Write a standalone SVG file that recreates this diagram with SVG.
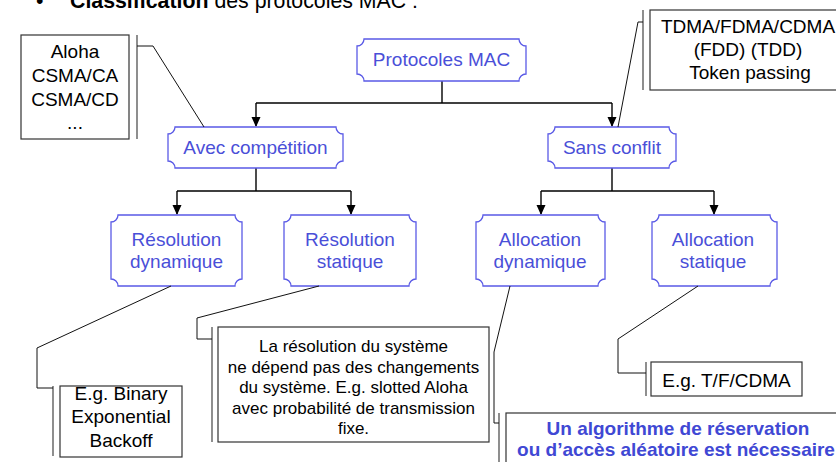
<svg xmlns="http://www.w3.org/2000/svg" width="836" height="462" viewBox="0 0 836 462">
<defs>
<style>
.node path{fill:#fff;stroke:#5a5ae6;stroke-width:1.3}
.node text{font-family:"Liberation Sans",Arial,sans-serif;font-size:19px;fill:#4a4fd8;text-anchor:middle}
.box{fill:#fff;stroke:#333;stroke-width:1.2}
.bar{stroke:#444;stroke-width:1.2;fill:none}
.lead{stroke:#111;stroke-width:1;fill:none}
.ct{font-family:"Liberation Sans",Arial,sans-serif;font-size:19px;fill:#000;text-anchor:middle}
.cs{font-family:"Liberation Sans",Arial,sans-serif;font-size:17px;fill:#000;text-anchor:middle}
.cb{font-family:"Liberation Sans",Arial,sans-serif;font-size:19px;font-weight:bold;fill:#4048d4;text-anchor:middle}
.conn{stroke:#000;stroke-width:1.4;fill:none}
</style>
<marker id="arr" markerUnits="userSpaceOnUse" markerWidth="10" markerHeight="11" refX="5" refY="10" orient="auto-start-reverse" viewBox="0 0 10 11">
<path d="M0,0 L10,0 L5,10 Z" fill="#000" transform="rotate(0)"/>
</marker>
</defs>
<rect width="836" height="462" fill="#fff"/>

<text x="36" y="8" font-family="Liberation Sans,Arial,sans-serif" font-size="21.3" fill="#000">•</text>
<text x="70" y="8" font-family="Liberation Sans,Arial,sans-serif" font-size="21.3" fill="#000"><tspan font-weight="bold">Classification</tspan> des protocoles MAC :</text>

<g id="connectors">
<path class="conn" d="M442,81 V103"/>
<path class="conn" d="M256,103 H612"/>
<path class="conn" d="M256,103 V126"/>
<path class="conn" d="M612,103 V126"/>
<path class="conn" d="M256,168 V191 M177,191 H351 M612,168 V191 M541,191 H714"/>
<path class="conn" d="M177,191 V214"/>
<path class="conn" d="M351,191 V214"/>
<path class="conn" d="M541,191 V214"/>
<path class="conn" d="M714,191 V214"/>
<g fill="#000">
<polygon points="251.5,117 260.5,117 256,127"/>
<polygon points="607.5,117 616.5,117 612,127"/>
<polygon points="172.5,205 181.5,205 177,215"/>
<polygon points="346.5,205 355.5,205 351,215"/>
<polygon points="536.5,205 545.5,205 541,215"/>
<polygon points="709.5,205 718.5,205 714,215"/>
</g>
</g>

<g id="n-protocoles" class="node">
<path d="M364,39 H519 A7,7 0 0 0 526,46 V74 A7,7 0 0 0 519,81 H364 A7,7 0 0 0 357,74 V46 A7,7 0 0 0 364,39 Z"/>
<text x="441.5" y="66">Protocoles MAC</text>
</g>
<g id="n-avec" class="node">
<path d="M175,127 H336 A7,7 0 0 0 343,134 V161 A7,7 0 0 0 336,168 H175 A7,7 0 0 0 168,161 V134 A7,7 0 0 0 175,127 Z"/>
<text x="255.5" y="154">Avec compétition</text>
</g>
<g id="n-sans" class="node">
<path d="M555,127 H669 A7,7 0 0 0 676,134 V161 A7,7 0 0 0 669,168 H555 A7,7 0 0 0 548,161 V134 A7,7 0 0 0 555,127 Z"/>
<text x="612" y="154">Sans conflit</text>
</g>
<g id="n-resdyn" class="node">
<path d="M118,215 H235 A7,7 0 0 0 242,222 V279 A7,7 0 0 0 235,286 H118 A7,7 0 0 0 111,279 V222 A7,7 0 0 0 118,215 Z"/>
<text x="176.5" y="246">Résolution</text>
<text x="176.5" y="268">dynamique</text>
</g>
<g id="n-resstat" class="node">
<path d="M291,215 H409 A7,7 0 0 0 416,222 V279 A7,7 0 0 0 409,286 H291 A7,7 0 0 0 284,279 V222 A7,7 0 0 0 291,215 Z"/>
<text x="350" y="246">Résolution</text>
<text x="350" y="268">statique</text>
</g>
<g id="n-allocdyn" class="node">
<path d="M483,215 H598 A7,7 0 0 0 605,222 V279 A7,7 0 0 0 598,286 H483 A7,7 0 0 0 476,279 V222 A7,7 0 0 0 483,215 Z"/>
<text x="540" y="246">Allocation</text>
<text x="540" y="268">dynamique</text>
</g>
<g id="n-allocstat" class="node">
<path d="M659,215 H770 A7,7 0 0 0 777,222 V279 A7,7 0 0 0 770,286 H659 A7,7 0 0 0 652,279 V222 A7,7 0 0 0 659,215 Z"/>
<text x="713" y="246">Allocation</text>
<text x="713" y="268">statique</text>
</g>

<g id="c-aloha">
<rect class="box" x="21" y="35" width="108" height="104"/>
<path class="bar" d="M137,35 V139"/>
<path class="lead" d="M137,46 H153 L204,127"/>
<text class="ct" x="75" y="58">Aloha</text>
<text class="ct" x="75" y="82">CSMA/CA</text>
<text class="ct" x="75" y="106">CSMA/CD</text>
<text class="ct" x="75" y="129">...</text>
</g>

<g id="c-tdma">
<rect class="box" x="650" y="10" width="198" height="80"/>
<path class="bar" d="M643,10 V90"/>
<path class="lead" d="M643,22 H638 L618,127"/>
<text class="ct" x="748" y="33">TDMA/FDMA/CDMA</text>
<text class="ct" x="748" y="56">(FDD) (TDD)</text>
<text class="ct" x="750" y="79">Token passing</text>
</g>

<g id="c-binary">
<rect class="box" x="60" y="386" width="122" height="71"/>
<path class="bar" d="M53,386 V456"/>
<path class="lead" d="M53,388 H37 V348 L171,286"/>
<text class="ct" x="121" y="400">E.g. Binary</text>
<text class="ct" x="121" y="423">Exponential</text>
<text class="ct" x="121" y="447">Backoff</text>
</g>

<g id="c-resolution">
<rect class="box" x="218" y="327" width="271" height="115"/>
<path class="bar" d="M212,327 V442"/>
<path class="lead" d="M212,339 H197 V318 L319,286"/>
<text class="cs" x="353.5" y="352">La résolution du système</text>
<text class="cs" x="353.5" y="372.5">ne dépend pas des changements</text>
<text class="cs" x="353.5" y="393">du système. E.g. slotted Aloha</text>
<text class="cs" x="353.5" y="413.5">avec probabilité de transmission</text>
<text class="cs" x="353.5" y="434">fixe.</text>
</g>

<g id="c-tfcdma">
<rect class="box" x="651" y="362" width="151" height="34"/>
<path class="bar" d="M646,362 V396"/>
<path class="lead" d="M646,373 H618 V339 L698,286"/>
<text class="ct" x="726.5" y="387">E.g. T/F/CDMA</text>
</g>

<g id="c-algo">
<rect class="box" x="506" y="413" width="344" height="60"/>
<path class="bar" d="M499,413 V470"/>
<path class="lead" d="M499,423 H494 V352 L510,286"/>
<text class="cb" x="678" y="435">Un algorithme de réservation</text>
<text class="cb" x="676" y="456">ou d’accès aléatoire est nécessaire</text>
</g>
</svg>
